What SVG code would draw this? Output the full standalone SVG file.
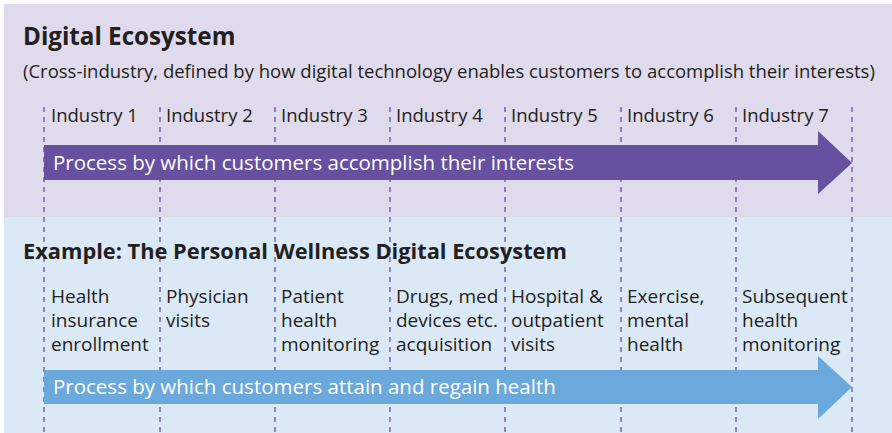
<svg xmlns="http://www.w3.org/2000/svg" width="892" height="433" viewBox="0 0 892 433">
<style>
text{font-family:"Open Sans","Noto Sans","Liberation Sans",sans-serif;fill:#231f20}
.h{font-weight:bold}
.t1{font-size:24.2px}
.t2{font-size:21.8px}
.s{font-size:18.5px}
.m{font-size:19px}
.w{fill:#ffffff;font-size:20.5px}
.d{stroke:#6a4fa6;stroke-width:1.3;stroke-dasharray:5 5;fill:none}
</style>
<rect x="0" y="0" width="892" height="433" fill="#ffffff"/>
<rect x="4" y="4" width="888" height="213" fill="#dfdaec"/>
<rect x="4" y="217" width="888" height="216" fill="#dbe8f5"/>
<g id="connectors">
<line class="d" x1="44" y1="107" x2="44" y2="433"/>
<line class="d" x1="160" y1="107" x2="160" y2="433"/>
<line class="d" x1="275" y1="107" x2="275" y2="433"/>
<line class="d" x1="390" y1="107" x2="390" y2="433"/>
<line class="d" x1="505" y1="107" x2="505" y2="433"/>
<line class="d" x1="621" y1="107" x2="621" y2="433"/>
<line class="d" x1="736" y1="107" x2="736" y2="433"/>
<line class="d" x1="852" y1="107" x2="852" y2="433"/>
</g>
<g id="title">
<text class="h t1" x="23" y="45">Digital Ecosystem</text>
<text class="s" x="23" y="78">(Cross-industry, defined by how digital technology enables customers to accomplish their interests)</text>
</g>
<g id="industries">
<text class="s" x="51" y="122">Industry 1</text>
<text class="s" x="166" y="122">Industry 2</text>
<text class="s" x="281" y="122">Industry 3</text>
<text class="s" x="396" y="122">Industry 4</text>
<text class="s" x="511" y="122">Industry 5</text>
<text class="s" x="627" y="122">Industry 6</text>
<text class="s" x="742" y="122">Industry 7</text>
</g>
<g id="arrow-top">
<polygon points="44,145 818,145 818,131 852,163 818,194 818,180 44,180" fill="#66509f"/>
<text class="w" x="53" y="170">Process by which customers accomplish their interests</text>
</g>
<g id="example-title">
<text class="h t2" x="23" y="259">Example: The Personal Wellness Digital Ecosystem</text>
</g>
<g id="step1"><text class="m" x="51" y="303">Health</text><text class="m" x="51" y="327">insurance</text><text class="m" x="51" y="351">enrollment</text></g>
<g id="step2"><text class="m" x="166" y="303">Physician</text><text class="m" x="166" y="327">visits</text></g>
<g id="step3"><text class="m" x="281" y="303">Patient</text><text class="m" x="281" y="327">health</text><text class="m" x="281" y="351">monitoring</text></g>
<g id="step4"><text class="m" x="396" y="303">Drugs, med</text><text class="m" x="396" y="327">devices etc.</text><text class="m" x="396" y="351">acquisition</text></g>
<g id="step5"><text class="m" x="511" y="303">Hospital &amp;</text><text class="m" x="511" y="327">outpatient</text><text class="m" x="511" y="351">visits</text></g>
<g id="step6"><text class="m" x="627" y="303">Exercise,</text><text class="m" x="627" y="327">mental</text><text class="m" x="627" y="351">health</text></g>
<g id="step7"><text class="m" x="742" y="303">Subsequent</text><text class="m" x="742" y="327">health</text><text class="m" x="742" y="351">monitoring</text></g>
<g id="arrow-bottom">
<polygon points="44,370 818,370 818,356 852,387 818,419 818,404 44,404" fill="#6ba8db"/>
<text class="w" x="53" y="394">Process by which customers attain and regain health</text>
</g>
</svg>
